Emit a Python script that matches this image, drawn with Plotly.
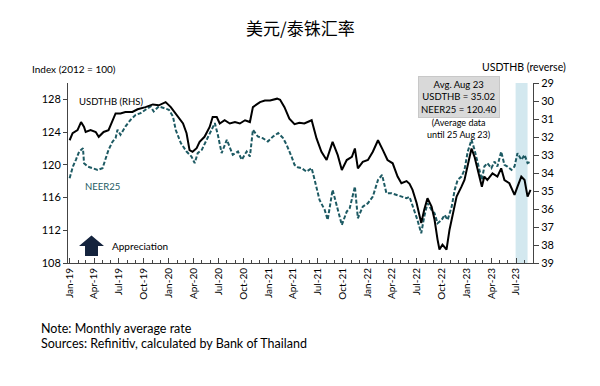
import plotly.graph_objects as go

# ---- data ----
usd_dates = ["2019-01-01","2019-01-12","2019-01-30","2019-02-12","2019-02-23","2019-03-01","2019-03-19","2019-04-07","2019-04-18","2019-05-06",
             "2019-05-24","2019-06-19","2019-07-07","2019-07-25","2019-08-20","2019-09-08","2019-10-07","2019-11-03","2019-11-25","2019-12-20",
             "2020-01-08","2020-01-26","2020-02-11","2020-02-22","2020-03-06","2020-03-17","2020-03-28","2020-04-12","2020-04-23","2020-05-11",
             "2020-05-30","2020-06-10","2020-06-25","2020-07-06","2020-07-24","2020-08-12","2020-08-31","2020-09-18","2020-10-07","2020-10-25",
             "2020-11-05","2020-12-01","2020-12-19","2021-01-07","2021-02-02","2021-02-13","2021-03-01","2021-03-19","2021-04-07","2021-04-25",
             "2021-05-13","2021-06-09","2021-06-27","2021-07-15","2021-08-03","2021-08-25","2021-09-13","2021-09-28","2021-10-16","2021-11-04",
             "2021-11-15","2021-11-26","2021-12-14","2022-01-02","2022-01-20","2022-02-08","2022-02-26","2022-03-15","2022-04-03","2022-04-21",
             "2022-05-05","2022-05-24","2022-06-04","2022-06-15","2022-06-30","2022-07-17","2022-07-28","2022-08-09","2022-08-24","2022-09-04",
             "2022-09-15","2022-09-22","2022-10-03","2022-10-18","2022-10-29","2022-11-10","2022-11-24","2022-12-12","2022-12-23","2023-01-11",
             "2023-01-18","2023-01-29","2023-02-10","2023-02-25","2023-03-06","2023-03-17","2023-04-05","2023-04-23","2023-05-07","2023-05-19",
             "2023-06-06","2023-06-25","2023-07-06","2023-07-20","2023-08-01","2023-08-12","2023-08-23"]
usdthb = [32.18,31.79,31.62,31.17,31.44,31.72,31.62,31.72,31.99,31.72,
          31.62,30.69,30.69,30.61,30.61,30.46,30.34,30.19,30.24,30.06,
          30.34,30.69,31.07,31.25,31.79,32.73,32.82,32.62,32.27,31.99,
          31.44,30.89,30.89,31.25,31.07,31.25,31.17,31.25,31.07,31.17,
          30.34,30.06,29.97,29.97,29.87,29.93,30.34,30.98,31.29,31.21,
          31.25,31.07,32.08,32.82,33.28,32.27,33.01,33.83,33.28,33.10,
          32.64,33.74,33.38,33.28,32.82,32.18,32.73,33.28,33.46,34.20,
          34.57,34.45,34.60,34.94,35.67,36.78,36.04,35.40,35.86,36.60,
          37.70,38.25,37.98,38.25,37.15,36.23,35.31,34.76,34.39,33.10,
          32.64,33.10,33.83,34.76,34.20,34.39,34.02,34.20,33.74,34.39,
          34.57,35.22,34.76,34.20,34.39,35.31,34.94]

neer_dates = ["2019-01-01","2019-01-13","2019-01-24","2019-02-05","2019-02-19","2019-02-23","2019-03-08","2019-03-26","2019-04-14","2019-05-02",
              "2019-05-13","2019-05-24","2019-06-08","2019-06-19","2019-06-26","2019-07-07","2019-07-25","2019-08-13","2019-09-01","2019-09-19",
              "2019-10-07","2019-10-26","2019-11-06","2019-11-25","2019-12-13","2020-01-01","2020-01-16","2020-01-26","2020-02-14","2020-02-22",
              "2020-03-06","2020-03-24","2020-04-05","2020-04-16","2020-05-01","2020-05-19","2020-06-07","2020-06-18","2020-06-29","2020-07-13",
              "2020-08-01","2020-08-12","2020-08-23","2020-09-11","2020-09-25","2020-10-13","2020-10-25","2020-11-05","2020-11-23","2020-12-11",
              "2020-12-30","2021-01-18","2021-02-06","2021-02-24","2021-03-09","2021-03-27","2021-04-07","2021-04-19","2021-05-03","2021-05-21",
              "2021-06-09","2021-06-20","2021-07-08","2021-07-27","2021-08-07","2021-08-25","2021-09-09","2021-09-28","2021-10-16","2021-10-27",
              "2021-11-15","2021-11-26","2021-12-14","2022-01-02","2022-01-20","2022-02-08","2022-02-23","2022-03-11","2022-03-30","2022-04-17",
              "2022-05-05","2022-05-24","2022-06-04","2022-06-19","2022-07-03","2022-07-17","2022-07-28","2022-08-09","2022-08-24","2022-09-04",
              "2022-09-15","2022-09-30","2022-10-11","2022-10-22","2022-11-06","2022-11-17","2022-11-28","2022-12-12","2022-12-23","2023-01-04",
              "2023-01-18","2023-01-29","2023-02-10","2023-02-25","2023-03-06","2023-03-17","2023-04-01","2023-04-12","2023-04-23","2023-05-07",
              "2023-05-19","2023-05-30","2023-06-14","2023-06-25","2023-07-06","2023-07-20","2023-08-01","2023-08-12","2023-08-23"]
neer25 = [118.37,119.79,120.61,121.62,122.04,120.20,119.79,119.59,119.38,119.59,
          120.61,121.83,122.85,123.26,124.28,123.67,124.68,125.50,126.11,126.32,
          126.73,127.13,126.52,127.13,126.94,126.73,125.91,124.28,122.65,122.20,
          121.62,121.01,120.20,121.43,121.83,123.06,124.49,125.10,123.67,121.43,
          123.06,122.24,121.22,121.62,120.61,121.62,121.01,124.28,123.46,123.26,
          122.85,123.46,123.88,123.26,122.44,121.01,120.00,119.70,119.59,119.17,
          119.59,118.16,115.71,114.49,113.27,116.94,114.89,112.65,114.28,114.70,
          117.34,113.47,114.89,115.31,116.12,118.16,118.77,116.53,116.53,116.32,
          116.12,115.92,116.08,114.73,113.26,111.64,113.67,115.31,114.49,114.08,
          112.86,113.26,113.88,113.26,114.89,116.94,118.16,118.56,119.38,121.62,
          123.06,121.83,120.20,118.16,119.79,120.20,119.59,120.40,119.79,121.62,
          120.00,119.79,119.38,119.79,121.43,120.61,121.22,120.20,120.40]

left_ticks = [108, 112, 116, 120, 124, 128]
right_ticks = [29, 30, 31, 32, 33, 34, 35, 36, 37, 38, 39]
x_tick_dates = ["2019-01-01","2019-04-01","2019-07-01","2019-10-01","2020-01-01","2020-04-01","2020-07-01","2020-10-01",
                "2021-01-01","2021-04-01","2021-07-01","2021-10-01","2022-01-01","2022-04-01","2022-07-01","2022-10-01",
                "2023-01-01","2023-04-01","2023-07-01"]
x_tick_text = ["Jan-19","Apr-19","Jul-19","Oct-19","Jan-20","Apr-20","Jul-20","Oct-20","Jan-21","Apr-21","Jul-21","Oct-21",
               "Jan-22","Apr-22","Jul-22","Oct-22","Jan-23","Apr-23","Jul-23"]
shade_period = ["2023-06-29", "2023-08-12"]

FONT = "Lato"
TEAL = "#1d5a63"

fig = go.Figure()
fig.add_trace(go.Scatter(x=neer_dates, y=neer25, mode="lines", name="NEER25",
                         line=dict(color=TEAL, width=2, dash="4px,2px"), yaxis="y"))
fig.add_trace(go.Scatter(x=usd_dates, y=usdthb, mode="lines", name="USDTHB",
                         line=dict(color="black", width=2), yaxis="y2"))

fig.add_vrect(x0=shade_period[0], x1=shade_period[1], fillcolor="#d3e8ef", line_width=0, layer="below")

# page has an 8px body offset: plot area spans page x 68..533, y 83..263
fig.update_layout(
    width=600, height=386,
    margin=dict(l=60, r=75, t=75, b=131),
    paper_bgcolor="white", plot_bgcolor="white",
    showlegend=False,
    font=dict(family=FONT, size=11, color="black"),
    xaxis=dict(range=["2018-12-26", "2023-09-01"], showgrid=False, zeroline=False,
               showline=True, linecolor="#444", linewidth=1,
               tickmode="array", tickvals=x_tick_dates, ticktext=x_tick_text, tickangle=-90,
               ticks="inside", ticklen=5, tickcolor="#444", tickfont=dict(size=10),
               minor=dict(dtick="M1", ticks="inside", ticklen=3, tickcolor="#444")),
    yaxis=dict(range=[108, 130], showgrid=False, zeroline=False, showline=True, linecolor="#444",
               tickmode="array", tickvals=left_ticks, ticks="outside", ticklen=4, tickcolor="#444",
               tickfont=dict(size=11)),
    yaxis2=dict(range=[39, 29], overlaying="y", side="right", showgrid=False, zeroline=False,
                showline=True, linecolor="#444", tickmode="array", tickvals=right_ticks,
                ticks="outside", ticklen=5, tickcolor="#444", tickfont=dict(size=11)),
)

def px_x(p):
    return (p - 68) / 465.0

def px_y(p):
    return (263 - p) / 180.0

ann = [
    dict(text="美元/泰铢汇率", x=px_x(300), y=px_y(28), xanchor="center", yanchor="middle",
         font=dict(family="Noto Sans CJK SC", size=17)),
    dict(text="Index (2012 = 100)", x=px_x(30), y=px_y(69), xanchor="left", yanchor="middle", font=dict(size=10)),
    dict(text="USDTHB (reverse)", x=px_x(480), y=px_y(67), xanchor="left", yanchor="middle", font=dict(size=10.5)),
    dict(text="USDTHB (RHS)", x=px_x(77), y=px_y(101), xanchor="left", yanchor="middle", font=dict(size=9.5)),
    dict(text="NEER25", x=px_x(83), y=px_y(186), xanchor="left", yanchor="middle", font=dict(size=9.5, color=TEAL)),
    dict(text="Appreciation", x=px_x(110), y=px_y(246), xanchor="left", yanchor="middle", font=dict(size=10)),
    dict(text="Avg. Aug 23<br>USDTHB = 35.02<br>NEER25 = 120.40", x=px_x(458.5), y=px_y(96.5),
         xanchor="center", yanchor="middle", bgcolor="#d9d9d9", bordercolor="#c8c8c8", borderwidth=1,
         borderpad=2, font=dict(size=9.5)),
    dict(text="(Average data<br>until 25 Aug 23)", x=px_x(458), y=px_y(128), xanchor="center", yanchor="middle",
         font=dict(size=9)),
    dict(text="Note: Monthly average rate", x=px_x(39), y=px_y(328), xanchor="left", yanchor="middle", font=dict(size=12.5)),
    dict(text="Sources: Refinitiv, calculated by Bank of Thailand", x=px_x(39), y=px_y(343), xanchor="left",
         yanchor="middle", font=dict(size=12.5)),
]
for a in ann:
    a.update(xref="paper", yref="paper", showarrow=False)
    fig.add_annotation(**a)

# block up-arrow ("Appreciation")
pts = [(85, 256), (85, 246), (79, 246), (91.5, 235.5), (104, 246), (98, 246), (98, 256)]
path = "M " + " L ".join(f"{px_x(a):.4f},{px_y(b):.4f}" for a, b in pts) + " Z"
fig.add_shape(type="path", path=path, xref="paper", yref="paper", fillcolor="#14233d", line=dict(width=0))

fig.write_html("out.html")
